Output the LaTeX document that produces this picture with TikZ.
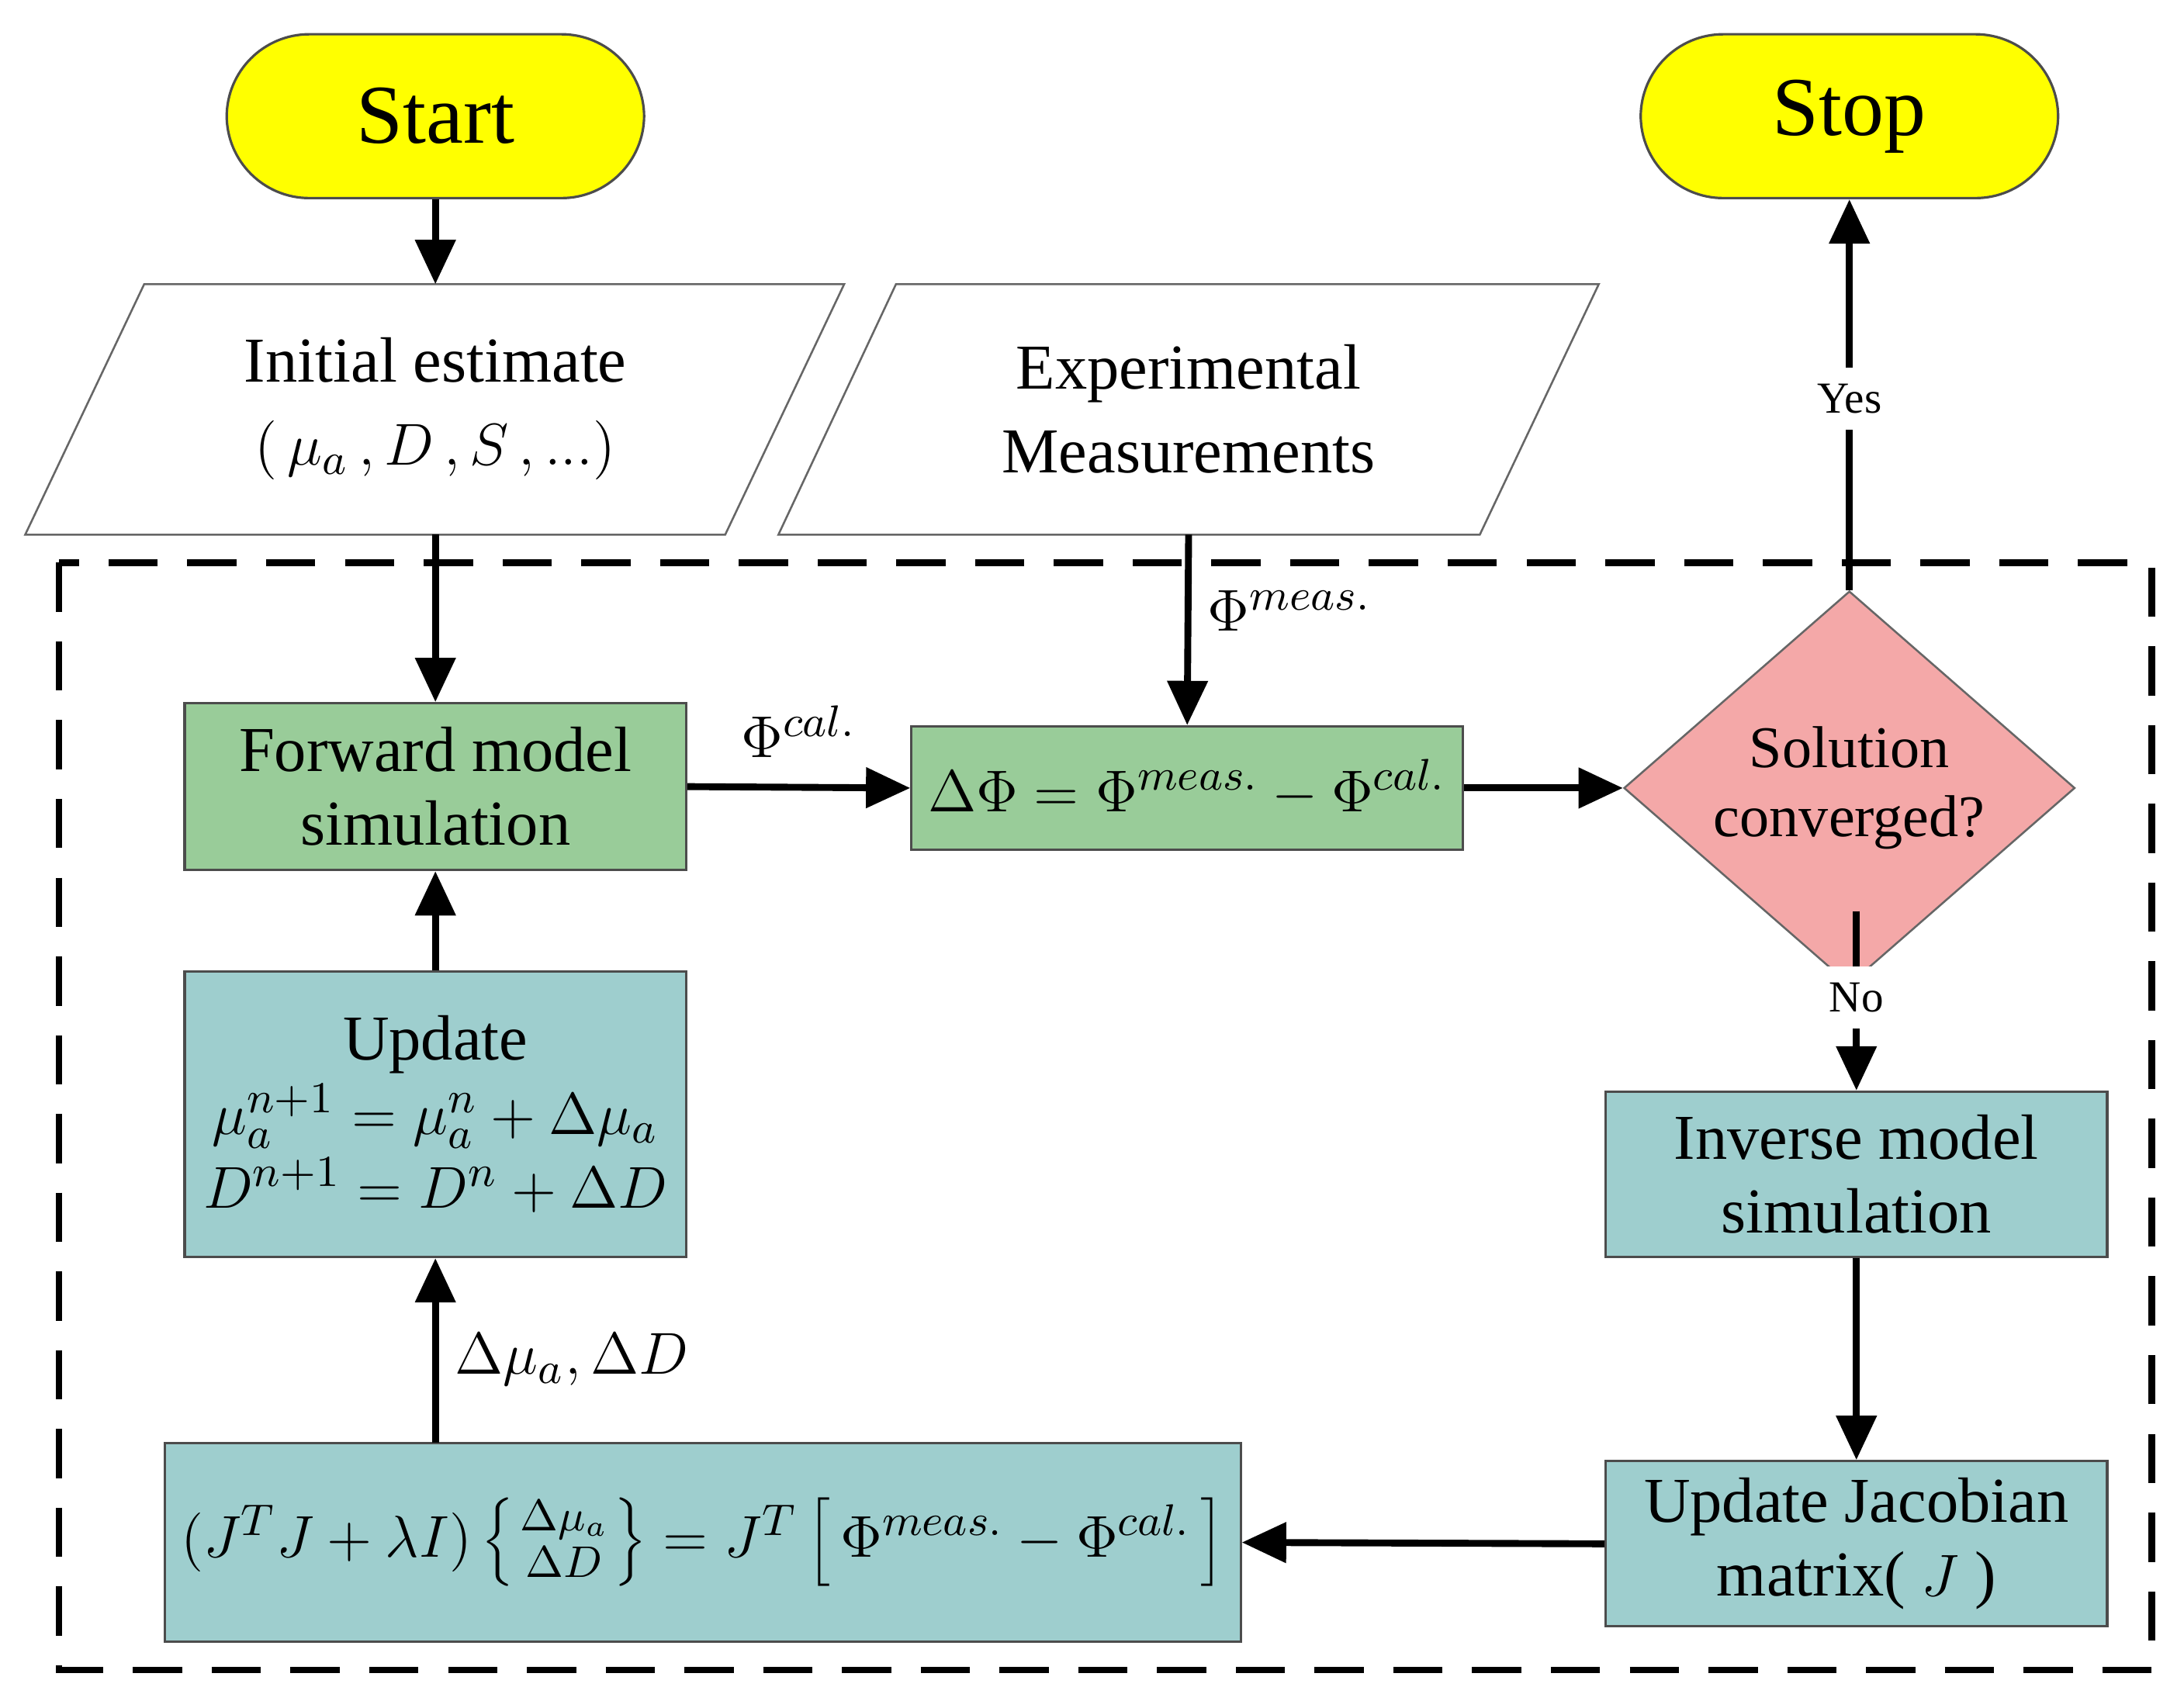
\documentclass[tikz,border=0pt]{standalone}
\usepackage{fontspec}
\setmainfont{Liberation Serif}
\usetikzlibrary{shapes.geometric,arrows.meta}
\begin{document}
\begin{tikzpicture}[x=0.01cm,y=-0.01cm,
 arr/.style={line width=1.4pt,-{Triangle[length=9pt,width=8pt]}},
 box/.style={draw=black!70,line width=0.5pt,align=center,font=\fontsize{13}{15}\selectfont},
 green/.style={box,fill=gbox},
 cyan/.style={box,fill=cbox},
 lab/.style={font=\fontsize{13}{15}\selectfont}]
\definecolor{gbox}{RGB}{153,204,153}
\definecolor{cbox}{RGB}{158,206,206}
\definecolor{pbox}{RGB}{244,168,168}
\definecolor{ybox}{RGB}{255,255,0}
\useasboundingbox (0,0) rectangle (1560,1215);
\draw[dashed,dash pattern=on 10pt off 6pt,line width=1.3pt] (42,402) rectangle (1537,1193);
\node[box,fill=ybox,rounded corners=0.59cm,minimum width=2.98cm,minimum height=1.17cm,font=\fontsize{17}{19}\selectfont] (start) at (311,83) {Start};
\node[box,fill=ybox,rounded corners=0.59cm,minimum width=2.98cm,minimum height=1.17cm,font=\fontsize{17}{19}\selectfont] (stop) at (1321,83) {Stop};
\draw[draw=black!60,fill=white] (103,203) -- (603,203) -- (518,382) -- (18,382) -- cycle;
\node[lab,align=center] (init) at (311,292) {Initial estimate\\[2pt]$(\,\mu_a\,,D\,,S\,,...)$};
\draw[draw=black!60,fill=white] (640,203) -- (1142,203) -- (1057,382) -- (556,382) -- cycle;
\node[lab,align=center] (exp) at (849,292) {Experimental\\[2pt]Measurements};
\coordinate (initt) at (311,203);
\coordinate (initb) at (311,382);
\coordinate (expb) at (849,382);
\node[green,minimum width=3.58cm,minimum height=1.19cm] (fwd) at (311,562) {Forward model\\simulation};
\node[green,minimum width=3.6cm,minimum height=0.88cm] (dphi) at (848,563) {$\Delta\Phi=\Phi^{meas.}-\Phi^{cal.}$};
\node[diamond,draw=black!60,fill=pbox,minimum width=3.22cm,minimum height=1.76cm,inner sep=0pt,align=center,font=\fontsize{12}{14}\selectfont] (conv) at (1321,563) {Solution\\converged?};
\node[cyan,minimum width=3.58cm,minimum height=2.04cm] (upd) at (311,796) {Update\\$\mu_a^{n+1}=\mu_a^n+\Delta\mu_a$\\$D^{n+1}=D^n+\Delta D$};
\node[cyan,minimum width=3.58cm,minimum height=1.18cm] (inv) at (1326,839) {Inverse model\\simulation};
\node[cyan,minimum width=3.58cm,minimum height=1.18cm] (jac) at (1326,1103) {Update Jacobian\\matrix( $J$ )};
\node[cyan,minimum width=7.4cm,minimum height=1.42cm] (eq) at (502,1102) {$(J^TJ+\lambda I)\left\{{\Delta\mu_a \atop \Delta D}\right\}=J^T\left[\,\Phi^{meas.}-\Phi^{cal.}\,\right]$};
\coordinate (eqt) at (311,1031);
\coordinate (convb) at (1326,651);
\draw[arr] (start.south) -- (initt);
\draw[arr] (initb) -- (fwd.north);
\draw[arr] (expb) -- (dphi.north) node[pos=0.4,right,lab] {$\Phi^{meas.}$};
\draw[arr] (fwd.east) -- (dphi.west) node[pos=0.5,above=2pt,lab] {$\Phi^{cal.}$};
\draw[arr] (dphi.east) -- (conv.west);
\draw[arr] (conv.north) -- (stop.south) node[pos=0.49,fill=white,font=\fontsize{9}{10}\selectfont] {Yes};
\draw[arr] (convb) -- (inv.north) node[pos=0.48,fill=white,font=\fontsize{9}{10}\selectfont] {No};
\draw[arr] (inv.south) -- (jac.north);
\draw[arr] (jac.west) -- (eq.east);
\draw[arr] (eqt) -- (upd.south) node[pos=0.45,right,lab] {$\Delta\mu_a,\Delta D$};
\draw[arr] (upd.north) -- (fwd.south);
\end{tikzpicture}
\end{document}
